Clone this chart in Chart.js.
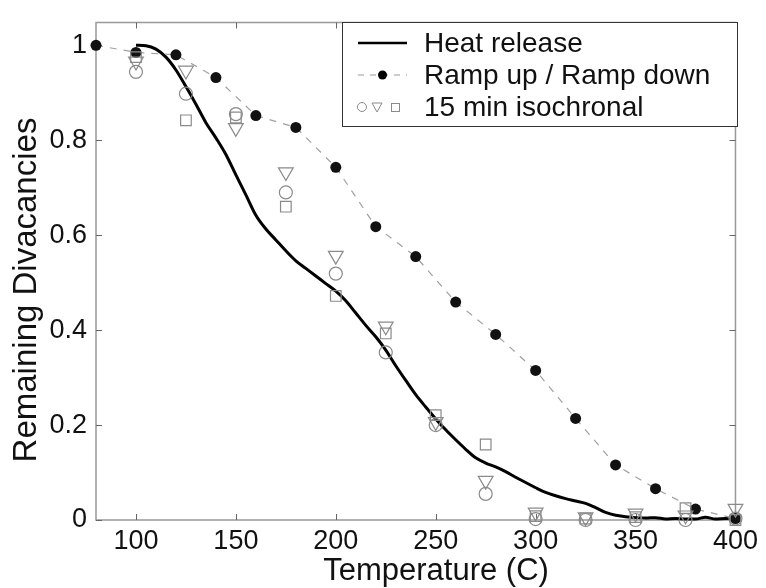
<!DOCTYPE html>
<html>
<head>
<meta charset="utf-8">
<script src="https://cdn.jsdelivr.net/npm/chart.js@4"></script>
<style>
  html, body { margin: 0; padding: 0; background: #fff; }
  #wrap { width: 766px; height: 588px; }
</style>
</head>
<body>
<div id="wrap"><canvas id="divChart" width="766" height="588"></canvas></div>
<script>
// heat release curve (every 5 C)
const heatTemps = [100,105,110,115,120,125,130,135,140,145,150,155,160,165,170,175,180,185,190,195,
    200,205,210,215,220,225,230,235,240,245,250,255,260,265,270,275,280,285,290,295,
    300,305,310,315,320,325,330,335,340,345,350,355,360,365,370,375,380,385,390,395,400];
const heatRelease = [1.0,0.999,0.992,0.975,0.948,0.913,0.876,0.837,0.805,0.770,0.727,0.685,0.642,0.613,0.590,0.567,0.546,0.530,0.514,0.498,
    0.482,0.462,0.436,0.410,0.386,0.358,0.325,0.294,0.264,0.238,0.213,0.190,0.169,0.149,0.131,0.120,0.112,0.102,0.090,0.079,
    0.068,0.058,0.051,0.045,0.040,0.035,0.026,0.016,0.010,0.007,0.005,0.004,0.005,0.002,0.003,0.002,0.002,0.006,0.002,0.003,0.003];

// ramp up / ramp down
const rampTemps = [80,100,120,140,160,180,200,220,240,260,280,300,320,340,360,380,400];
const rampValues = [1.0,0.985,0.98,0.932,0.852,0.827,0.743,0.618,0.555,0.459,0.391,0.315,0.214,0.116,0.066,0.023,0.003];

// 15 min isochronal anneals
const isoTemps = [100,125,150,175,200,225,250,275,300,325,350,375,400];
const isoCircle = [0.944,0.898,0.855,0.690,0.519,0.353,0.200,0.055,0.002,0.0,0.0,0.0,0.003];
const isoTriangle = [0.966,0.947,0.826,0.733,0.557,0.408,0.207,0.083,0.016,0.006,0.014,0.010,0.024];
const isoSquare = [0.975,0.842,0.848,0.660,0.472,0.393,0.221,0.159,0.008,0.003,0.006,0.025,0.0];

const xTicks = [100,150,200,250,300,350,400];
const yTicks = [0,0.2,0.4,0.6,0.8,1];

const FONT = '"Liberation Sans", Arial, Helvetica, sans-serif';
const GRAY = '#8a8a8a';

function pairs(xs, ys) {
    return xs.map((x, i) => ({ x: x, y: ys[i] }));
}

// box, inward ticks, axis titles, legend -- the MATLAB look
const decorations = {
    id: 'decorations',
    beforeDatasetsDraw(chart) {
        const ctx = chart.ctx;
        const a = chart.chartArea;
        const xs = chart.scales.x, ys = chart.scales.y;
        ctx.save();
        ctx.strokeStyle = '#999';
        ctx.lineWidth = 1.5;
        ctx.strokeRect(a.left, a.top, a.right - a.left, a.bottom - a.top);
        ctx.strokeStyle = '#666';
        ctx.lineWidth = 1;
        ctx.beginPath();
        xTicks.forEach(v => {
            const px = Math.round(xs.getPixelForValue(v)) + 0.5;
            ctx.moveTo(px, a.bottom); ctx.lineTo(px, a.bottom - 6);
            ctx.moveTo(px, a.top); ctx.lineTo(px, a.top + 6);
        });
        yTicks.forEach(v => {
            const py = Math.round(ys.getPixelForValue(v)) + 0.5;
            ctx.moveTo(a.left, py); ctx.lineTo(a.left + 6, py);
            ctx.moveTo(a.right, py); ctx.lineTo(a.right - 6, py);
        });
        ctx.stroke();
        ctx.restore();
    },
    afterDraw(chart) {
        const ctx = chart.ctx;
        ctx.save();
        ctx.fillStyle = '#111';
        // axis titles
        ctx.font = '31px ' + FONT;
        ctx.textAlign = 'center';
        ctx.textBaseline = 'middle';
        ctx.fillText('Temperature (C)', 436, 571);
        ctx.save();
        ctx.font = '33px ' + FONT;
        ctx.translate(27, 290);
        ctx.rotate(-Math.PI / 2);
        ctx.fillText('Remaining Divacancies', 0, 0);
        ctx.restore();

        // legend
        const bx = 342, by = 22, bw = 395, bh = 104;
        ctx.fillStyle = '#fff';
        ctx.fillRect(bx, by, bw, bh);
        ctx.strokeStyle = '#333';
        ctx.lineWidth = 1;
        ctx.strokeRect(bx + 0.5, by + 0.5, bw, bh);

        const rows = [43, 75, 107];
        ctx.lineWidth = 2.5;
        ctx.strokeStyle = '#000';
        ctx.beginPath(); ctx.moveTo(358, rows[0]); ctx.lineTo(407, rows[0]); ctx.stroke();

        ctx.lineWidth = 1.2;
        ctx.strokeStyle = '#999';
        ctx.setLineDash([6, 6]);
        ctx.beginPath(); ctx.moveTo(358, rows[1]); ctx.lineTo(407, rows[1]); ctx.stroke();
        ctx.setLineDash([]);
        ctx.fillStyle = '#000';
        ctx.beginPath(); ctx.arc(382.5, rows[1], 4.5, 0, Math.PI * 2); ctx.fill();

        ctx.strokeStyle = GRAY;
        ctx.lineWidth = 1;
        ctx.beginPath(); ctx.arc(362, rows[2], 4.5, 0, Math.PI * 2); ctx.stroke();
        ctx.beginPath();
        ctx.moveTo(372, rows[2] - 4); ctx.lineTo(382, rows[2] - 4); ctx.lineTo(377, rows[2] + 5); ctx.closePath();
        ctx.stroke();
        ctx.strokeRect(391.5, rows[2] - 3.5, 8, 8);

        ctx.fillStyle = '#111';
        ctx.font = '28px ' + FONT;
        ctx.textAlign = 'left';
        ctx.textBaseline = 'middle';
        ctx.fillText('Heat release', 424, rows[0] + 1);
        ctx.fillText('Ramp up / Ramp down', 424, rows[1] + 1);
        ctx.fillText('15 min isochronal', 424, rows[2] + 1);
        ctx.restore();
    }
};

const isoStyle = {
    showLine: false,
    borderColor: GRAY,
    backgroundColor: 'rgba(0,0,0,0)',
    pointBorderWidth: 1.2,
    pointHoverRadius: 0,
    clip: false
};

new Chart(document.getElementById('divChart'), {
    type: 'line',
    data: {
        datasets: [
            Object.assign({ label: 'circle', data: pairs(isoTemps, isoCircle), pointStyle: 'circle', pointRadius: 6.5 }, isoStyle),
            Object.assign({ label: 'triangle', data: pairs(isoTemps, isoTriangle), pointStyle: 'triangle', pointRotation: 180, pointRadius: 8.5 }, isoStyle),
            Object.assign({ label: 'square', data: pairs(isoTemps, isoSquare), pointStyle: 'rect', pointRadius: 7.5 }, isoStyle),
            {
                label: 'Ramp up / Ramp down',
                data: pairs(rampTemps, rampValues),
                borderColor: '#a0a0a0',
                borderWidth: 1.2,
                borderDash: [7, 7],
                pointRadius: 5.5,
                pointBackgroundColor: '#111',
                pointBorderColor: '#111',
                pointBorderWidth: 0,
                tension: 0,
                clip: false
            },
            {
                label: 'Heat release',
                data: pairs(heatTemps, heatRelease),
                borderColor: '#000',
                borderWidth: 3,
                pointRadius: 0,
                tension: 0.3,
                cubicInterpolationMode: 'monotone',
                clip: false
            }
        ]
    },
    options: {
        responsive: false,
        animation: false,
        layout: { padding: { top: 15, right: 26, bottom: 0, left: 0 } },
        plugins: { legend: { display: false }, tooltip: { enabled: false } },
        scales: {
            x: {
                type: 'linear',
                min: 80,
                max: 400,
                afterBuildTicks: (scale) => { scale.ticks = xTicks.map(v => ({ value: v })); },
                afterFit: (scale) => { scale.height = 68; },
                grid: { display: false, drawTicks: false },
                border: { display: false },
                ticks: {
                    autoSkip: false,
                    maxRotation: 0,
                    padding: 8,
                    color: '#111',
                    font: { family: FONT, size: 27, lineHeight: 1 },
                    callback: (v) => String(v)
                }
            },
            y: {
                type: 'linear',
                min: 0,
                max: 1.048,
                afterBuildTicks: (scale) => { scale.ticks = yTicks.map(v => ({ value: v })); },
                afterFit: (scale) => { scale.width = 96; },
                grid: { display: false, drawTicks: false },
                border: { display: false },
                ticks: {
                    autoSkip: false,
                    padding: 9,
                    color: '#111',
                    font: { family: FONT, size: 27, lineHeight: 1 },
                    callback: (v) => String(Math.round(v * 10) / 10)
                }
            }
        }
    },
    plugins: [decorations]
});
</script>
</body>
</html>
